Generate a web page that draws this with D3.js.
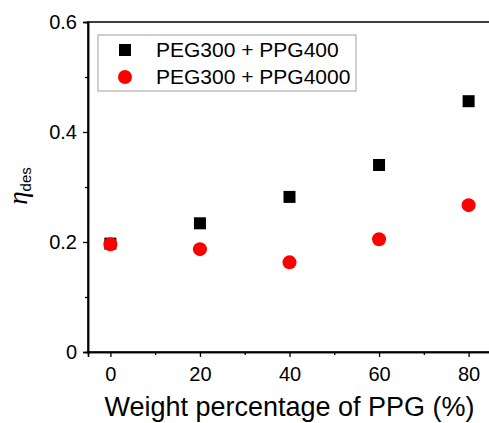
<!DOCTYPE html>
<html>
<head>
<meta charset="utf-8">
<script src="https://cdn.jsdelivr.net/npm/d3@7"></script>
<style>
  body { margin: 0; background: #fff; }
  text { font-family: "Liberation Sans", Arial, sans-serif; }
</style>
</head>
<body>
<div id="chart"></div>
<script>
// data
var weightPct = [0, 20, 40, 60, 80];
var ppg400 = [0.197, 0.234, 0.282, 0.340, 0.456];
var ppg4000 = [0.196, 0.187, 0.163, 0.205, 0.267];
var seriesNames = ["PEG300 + PPG400", "PEG300 + PPG4000"];
var xTicks = [0, 20, 40, 60, 80];
var xMinor = [10, 30, 50, 70];
var yTicks = [0, 0.2, 0.4, 0.6];
var yMinor = [0.1, 0.3, 0.5];

var svgWidth = 489;
var svgHeight = 423;

var svg = d3.select("#chart")
  .append("svg")
  .attr("width", svgWidth)
  .attr("height", svgHeight);

var x = d3.scaleLinear().domain([-5, 85]).range([88, 491]);
var y = d3.scaleLinear().domain([0, 0.6]).range([352, 22]);

// frame
svg.append("rect")
  .attr("x", x(-5))
  .attr("y", y(0.6))
  .attr("width", x(85) - x(-5))
  .attr("height", y(0) - y(0.6))
  .attr("fill", "none")
  .attr("stroke", "#000")
  .attr("stroke-width", 1.5);

// y axis
var leftAxis = d3.axisLeft(y)
  .tickValues(yTicks)
  .tickSize(5)
  .tickPadding(6)
  .tickFormat(function(d) { return d === 0 ? "0" : d3.format(".1f")(d); });

var yAxis = svg.append("g")
  .attr("transform", "translate(" + x(-5) + ",0)")
  .call(leftAxis);

svg.append("g")
  .attr("transform", "translate(" + x(-5) + ",0)")
  .call(d3.axisLeft(y).tickValues(yMinor).tickSize(3).tickFormat(""));

// x axis
var bottomAxis = d3.axisBottom(x)
  .tickValues(xTicks)
  .tickSize(5)
  .tickPadding(10);

var xAxis = svg.append("g")
  .attr("transform", "translate(0," + y(0) + ")")
  .call(bottomAxis);

svg.append("g")
  .attr("transform", "translate(0," + y(0) + ")")
  .call(d3.axisBottom(x).tickValues(xMinor).tickSize(3).tickFormat(""));

svg.selectAll(".domain").attr("stroke", "#000").attr("stroke-width", 1.5);
svg.selectAll(".tick line").attr("stroke", "#000").attr("stroke-width", 1.3);
svg.selectAll(".tick text")
  .attr("font-size", "20px")
  .attr("fill", "#000")
  .style("font-family", "'Liberation Sans', Arial, sans-serif");

// axis titles
svg.append("text")
  .attr("x", (x(-5) + x(85)) / 2)
  .attr("y", 416)
  .attr("text-anchor", "middle")
  .attr("font-size", "27px")
  .text("Weight percentage of PPG (%)");

var yTitle = svg.append("text")
  .attr("transform", "translate(27,186) rotate(-90)")
  .attr("text-anchor", "middle");
yTitle.append("tspan")
  .style("font-family", "'Liberation Serif', 'Times New Roman', serif")
  .attr("font-style", "italic")
  .attr("font-size", "27px")
  .text("\u03B7");
yTitle.append("tspan")
  .attr("font-size", "15px")
  .attr("dy", 4)
  .text("des");

// points
svg.selectAll("rect.s400")
  .data(weightPct)
  .enter()
  .append("rect")
  .attr("class", "s400")
  .attr("x", function(d) { return x(d) - 6; })
  .attr("y", function(d, i) { return y(ppg400[i]) - 6; })
  .attr("width", 12)
  .attr("height", 12)
  .attr("fill", "#000");

svg.selectAll("circle.s4000")
  .data(weightPct)
  .enter()
  .append("circle")
  .attr("class", "s4000")
  .attr("cx", function(d) { return x(d); })
  .attr("cy", function(d, i) { return y(ppg4000[i]); })
  .attr("r", 7)
  .attr("fill", "#ff0000");

// legend
var legend = svg.append("g");
legend.append("rect")
  .attr("x", 98)
  .attr("y", 35)
  .attr("width", 258)
  .attr("height", 56)
  .attr("fill", "#fff")
  .attr("stroke", "#a0a0a0")
  .attr("stroke-width", 1);

legend.append("rect")
  .attr("x", 119)
  .attr("y", 44)
  .attr("width", 12)
  .attr("height", 12)
  .attr("fill", "#000");

legend.append("circle")
  .attr("cx", 125)
  .attr("cy", 77)
  .attr("r", 7)
  .attr("fill", "#ff0000");

legend.selectAll("text")
  .data(seriesNames)
  .enter()
  .append("text")
  .attr("x", 156)
  .attr("y", function(d, i) { return 57 + i * 27; })
  .attr("font-size", "21px")
  .text(function(d) { return d; });
</script>
</body>
</html>
